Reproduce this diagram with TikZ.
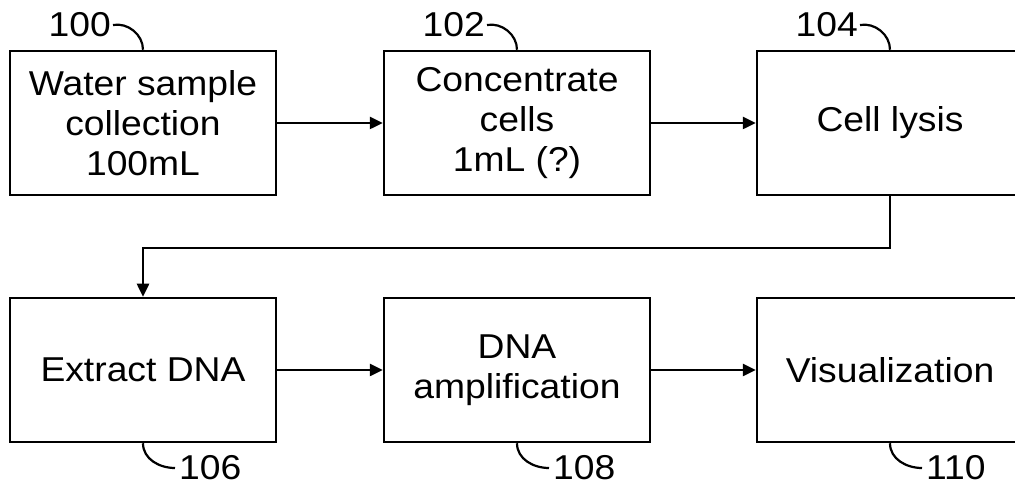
\documentclass[tikz,border=0pt]{standalone}
\usepackage{fontspec}
\setmainfont[FakeStretch=1.08]{Liberation Sans}
\usetikzlibrary{arrows.meta}
\begin{document}
\begin{tikzpicture}[x=1pt,y=1pt,
  stepbox/.style={draw=black, line width=2.5pt, minimum width=266pt, minimum height=144pt, inner sep=0pt, align=center, font=\fontsize{34.5}{40}\selectfont},
  reflabel/.style={inner sep=0pt, font=\fontsize{34.5}{38}\selectfont},
  leader/.style={line width=2.2pt},
  flow/.style={line width=2.5pt, -{Triangle[length=13pt,width=12pt]}}]
\useasboundingbox (0,0) rectangle (1015,490);
% boxes
\node[stepbox] (b100) at (143,367) {Water sample\\collection\\100mL};
\node[stepbox] (b102) at (517,367) {Concentrate\\cells\\1mL (?)};
\node[stepbox] (b104) at (890,367) {Cell lysis};
\node[stepbox] (b106) at (143,120) {Extract DNA};
\node[stepbox] (b108) at (517,120) {DNA\\amplification};
\node[stepbox] (b110) at (890,120) {Visualization};
% reference labels
\node[reflabel, anchor=east] (l100) at (111,465) {100};
\node[reflabel, anchor=east] (l102) at (485,465) {102};
\node[reflabel, anchor=east] (l104) at (858,465) {104};
\node[reflabel, anchor=west] (l106) at (179,22) {106};
\node[reflabel, anchor=west] (l108) at (553,22) {108};
\node[reflabel, anchor=west] (l110) at (926,22) {110};
% leaders
\draw[leader] ([xshift=2pt]l100.east) to[out=10,in=90] (b100.north);
\draw[leader] ([xshift=2pt]l102.east) to[out=10,in=90] (b102.north);
\draw[leader] ([xshift=2pt]l104.east) to[out=10,in=90] (b104.north);
\draw[leader] (b106.south) to[out=-90,in=180] ([xshift=-4pt]l106.west);
\draw[leader] (b108.south) to[out=-90,in=180] ([xshift=-4pt]l108.west);
\draw[leader] (b110.south) to[out=-90,in=180] ([xshift=-4pt]l110.west);
% flow
\draw[flow] (b100.east) -- (b102.west);
\draw[flow] (b102.east) -- (b104.west);
\draw[flow] (b104.south) -- ++(0,-52) -| (b106.north);
\draw[flow] (b106.east) -- (b108.west);
\draw[flow] (b108.east) -- (b110.west);
\end{tikzpicture}
\end{document}
